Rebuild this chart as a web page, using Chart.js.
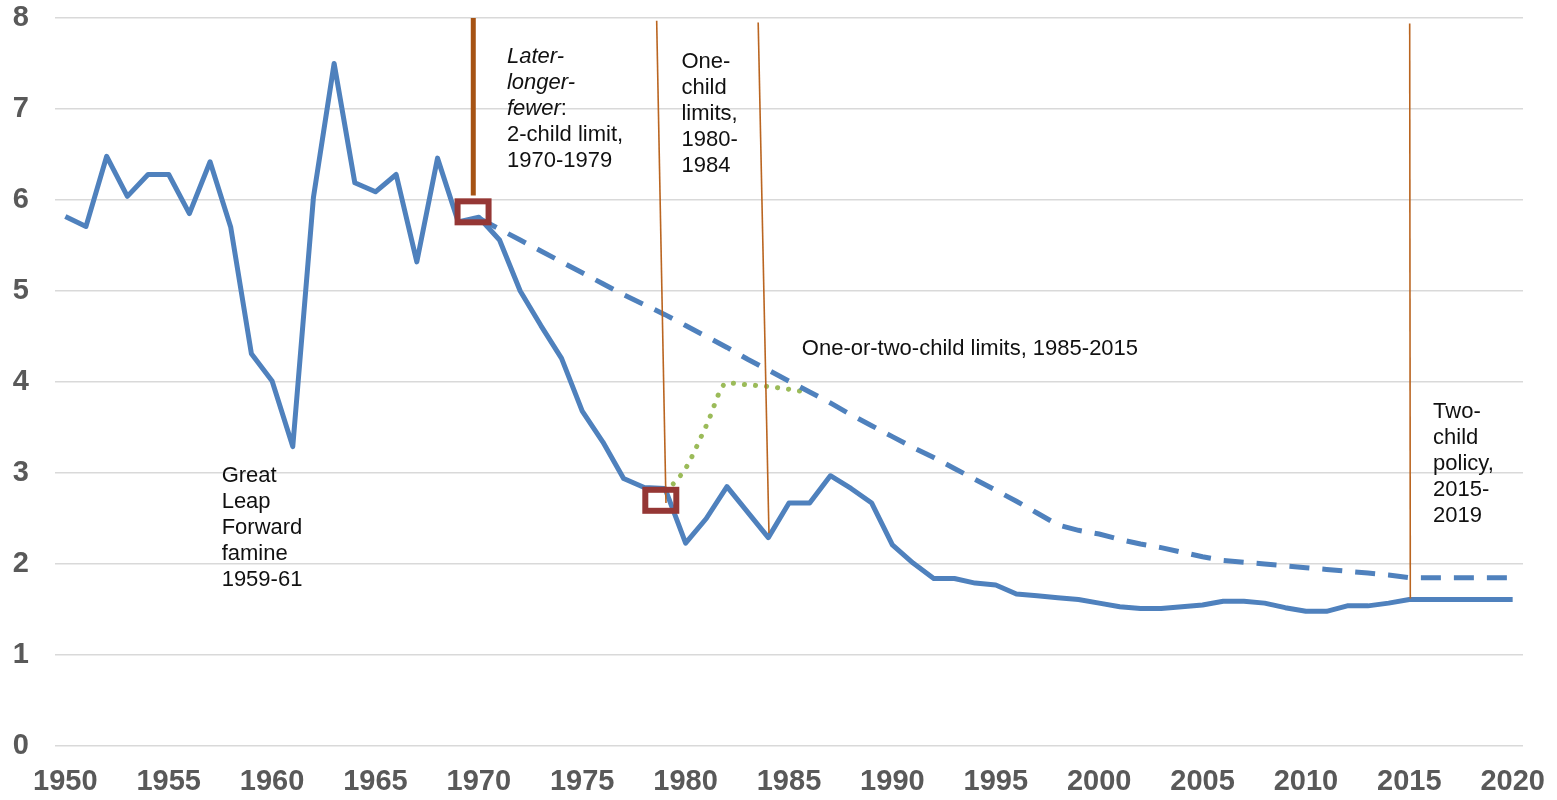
<!DOCTYPE html>
<html>
<head>
<meta charset="utf-8">
<script src="https://cdn.jsdelivr.net/npm/chart.js@4.4.1/dist/chart.umd.min.js"></script>
<style>
    html, body { margin: 0; padding: 0; background: #ffffff; }
    #wrap { width: 1557px; height: 800px; position: relative; }
</style>
</head>
<body>
<div id="wrap"><canvas id="tfrChart"></canvas></div>
<script>
// years on the category axis
const years = [
    1950, 1951, 1952, 1953, 1954, 1955, 1956, 1957, 1958, 1959,
    1960, 1961, 1962, 1963, 1964, 1965, 1966, 1967, 1968, 1969,
    1970, 1971, 1972, 1973, 1974, 1975, 1976, 1977, 1978, 1979,
    1980, 1981, 1982, 1983, 1984, 1985, 1986, 1987, 1988, 1989,
    1990, 1991, 1992, 1993, 1994, 1995, 1996, 1997, 1998, 1999,
    2000, 2001, 2002, 2003, 2004, 2005, 2006, 2007, 2008, 2009,
    2010, 2011, 2012, 2013, 2014, 2015, 2016, 2017, 2018, 2019, 2020
];
const tickYears = [1950, 1955, 1960, 1965, 1970, 1975, 1980, 1985, 1990, 1995, 2000, 2005, 2010, 2015, 2020];
const yTicks = [0, 1, 2, 3, 4, 5, 6, 7, 8];

// total fertility rate (solid line)
const tfr = [
    5.82, 5.71, 6.48, 6.04, 6.28, 6.28, 5.85, 6.42, 5.70, 4.31,
    4.01, 3.29, 6.03, 7.50, 6.19, 6.09, 6.28, 5.32, 6.46, 5.76,
    5.81, 5.56, 5.00, 4.62, 4.26, 3.68, 3.34, 2.94, 2.84, 2.83,
    2.23, 2.50, 2.85, 2.57, 2.29, 2.67, 2.67, 2.97, 2.83, 2.67,
    2.21, 2.01, 1.84, 1.84, 1.79, 1.77, 1.67, 1.65, 1.63, 1.61,
    1.57, 1.53, 1.51, 1.51, 1.53, 1.55, 1.59, 1.59, 1.57, 1.52,
    1.48, 1.48, 1.54, 1.54, 1.57, 1.61, 1.61, 1.61, 1.61, 1.61, 1.61
];

// dashed trend line (starts 1970)
const trend = [
    null, null, null, null, null, null, null, null, null, null,
    null, null, null, null, null, null, null, null, null, null,
    5.80, 5.68, 5.56, 5.44, 5.32, 5.20, 5.08, 4.96, 4.85, 4.74,
    4.62, 4.50, 4.38, 4.25, 4.13, 4.01, 3.89, 3.77, 3.64, 3.52,
    3.40, 3.28, 3.17, 3.05, 2.93, 2.81, 2.69, 2.56, 2.43, 2.37,
    2.33, 2.27, 2.22, 2.18, 2.13, 2.08, 2.04, 2.02, 2.00, 1.98,
    1.96, 1.94, 1.92, 1.90, 1.88, 1.85, 1.85, 1.85, 1.85, 1.85, 1.85
];

// green dotted counterfactual
const greenYears = [1979.4, 1980, 1981, 1982, 1983, 1984, 1985, 1986];
const greenValues = [2.88, 3.05, 3.52, 3.99, 3.97, 3.95, 3.92, 3.88];

// policy marker lines: [topYear, topValue, bottomYear, bottomValue]
const policyLines = [
    [1969.73, 8.00, 1969.73, 6.05],
    [1978.60, 7.97, 1979.05, 2.67],
    [1983.51, 7.95, 1984.03, 2.34],
    [2015.02, 7.94, 2015.05, 1.62]
];

// hollow boxes
const boxYears = [1969.72, 1978.80];
const boxValues = [5.87, 2.70];

const notes = [
    { year: 1957.56, value: 2.90, lines: [[["Great", false]], [["Leap", false]], [["Forward", false]], [["famine", false]], [["1959-61", false]]] },
    { year: 1971.36, value: 7.505, lines: [[["Later-", true]], [["longer-", true]], [["fewer", true], [":", false]], [["2-child limit,", false]], [["1970-1979", false]]] },
    { year: 1979.80, value: 7.447, lines: [[["One-", false]], [["child", false]], [["limits,", false]], [["1980-", false]], [["1984", false]]] },
    { year: 1985.62, value: 4.297, lines: [[["One-or-two-child limits, 1985-2015", false]]] },
    { year: 2016.15, value: 3.60, lines: [[["Two-", false]], [["child", false]], [["policy,", false]], [["2015-", false]], [["2019", false]]] }
];

const BLUE = "#4F81BD";
const GREEN = "#9BBB59";
const FONT = "'Liberation Sans', Arial, sans-serif";

const overlayPlugin = {
    id: "overlay",
    afterDatasetsDraw(chart) {
        const ctx = chart.ctx;
        const xs = chart.scales.x;
        const ys = chart.scales.y;

        ctx.save();
        ctx.strokeStyle = "#953735";
        ctx.lineWidth = 6;
        for (let i = 0; i < boxYears.length; i++) {
            const cx = xs.getPixelForValue(boxYears[i]);
            const cy = ys.getPixelForValue(boxValues[i]);
            ctx.strokeRect(cx - 15.5, cy - 10.5, 31, 21);
        }

        ctx.fillStyle = "#111111";
        ctx.textBaseline = "alphabetic";
        ctx.textAlign = "left";
        notes.forEach(function (note) {
            const x0 = xs.getPixelForValue(note.year);
            let y = ys.getPixelForValue(note.value);
            note.lines.forEach(function (line) {
                let x = x0;
                line.forEach(function (seg) {
                    ctx.font = (seg[1] ? "italic " : "") + "22px " + FONT;
                    ctx.fillText(seg[0], x, y);
                    x += ctx.measureText(seg[0]).width;
                });
                y += 26;
            });
        });
        ctx.restore();
    }
};

const datasets = [];

policyLines.forEach(function (p, i) {
    datasets.push({
        data: [{ x: p[0], y: p[1] }, { x: p[2], y: p[3] }],
        borderColor: i === 0 ? "#A65314" : "#BA6520",
        borderWidth: i === 0 ? 5 : 1.6,
        pointRadius: 0,
        order: 0
    });
});

datasets.push({
    data: years.map(function (yr, i) { return { x: yr, y: tfr[i] }; }),
    borderColor: BLUE,
    borderWidth: 5,
    pointRadius: 0,
    borderJoinStyle: "round",
    order: 1
});

datasets.push({
    data: years.map(function (yr, i) { return { x: yr, y: trend[i] }; }),
    borderColor: BLUE,
    borderWidth: 5,
    borderDash: [20, 13],
    pointRadius: 0,
    order: 2
});

datasets.push({
    data: greenYears.map(function (yr, i) { return { x: yr, y: greenValues[i] }; }),
    borderColor: GREEN,
    borderWidth: 5,
    borderDash: [0.1, 11],
    borderCapStyle: "round",
    cubicInterpolationMode: "monotone",
    pointRadius: 0,
    order: 3
});

new Chart(document.getElementById("tfrChart"), {
    type: "line",
    data: { datasets: datasets },
    options: {
        responsive: true,
        maintainAspectRatio: false,
        animation: false,
        layout: { padding: { top: 18, right: 34, left: 0, bottom: 0 } },
        plugins: {
            legend: { display: false },
            tooltip: { enabled: false }
        },
        scales: {
            x: {
                type: "linear",
                min: 1949.5,
                max: 2020.5,
                afterBuildTicks: function (axis) {
                    axis.ticks = tickYears.map(function (v) { return { value: v }; });
                },
                afterFit: function (scale) {
                    scale.height = 54;
                    scale.paddingLeft = 0;
                    scale.paddingRight = 0;
                },
                grid: { display: false, drawTicks: false },
                border: { display: false },
                ticks: {
                    autoSkip: false,
                    maxRotation: 0,
                    padding: 19,
                    color: "#595959",
                    font: { family: FONT, size: 29, weight: "bold" },
                    callback: function (value) { return String(value); }
                }
            },
            y: {
                min: 0,
                max: 8,
                afterBuildTicks: function (axis) {
                    axis.ticks = yTicks.map(function (v) { return { value: v }; });
                },
                afterFit: function (scale) {
                    scale.width = 55;
                    scale.paddingTop = 0;
                    scale.paddingBottom = 0;
                },
                grid: { color: "#D9D9D9", lineWidth: 1.5, drawTicks: false },
                border: { display: false },
                ticks: {
                    padding: 26,
                    color: "#595959",
                    font: { family: FONT, size: 29, weight: "bold" }
                }
            }
        }
    },
    plugins: [overlayPlugin]
});
</script>
</body>
</html>
